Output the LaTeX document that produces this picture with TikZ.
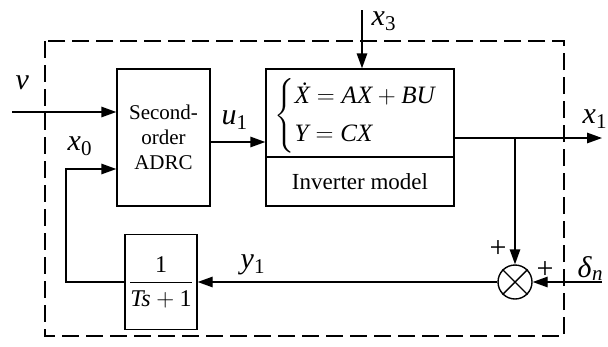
\documentclass[tikz,border=0pt]{standalone}
\usepackage{amsmath}
\usepackage{fontspec}
\setmainfont{Liberation Serif}
\usetikzlibrary{arrows.meta}
\newcommand\vsub[2]{\textit{#1}\textsubscript{#2}}
\begin{document}
\begin{tikzpicture}[x=1pt,y=-1pt,
  line width=1.4pt,
  arr/.style={-{Triangle[length=15pt,width=10.5pt]}},
  blk/.style={draw, inner sep=0pt},
  lab/.style={font=\fontsize{30}{34}\selectfont, inner sep=0pt, anchor=base west},
  sgn/.style={font=\fontsize{30}{34}\selectfont, inner sep=0pt},
  txt/.style={font=\fontsize{21}{25}\selectfont, align=center, inner sep=0pt}]
\useasboundingbox (0,0) rectangle (608,346);
\draw[dash pattern=on 17pt off 7pt] (45,41) rectangle (564,336);
% blocks
\node[blk, minimum width=93pt, minimum height=137pt] (adrc) at (163.5,137.5) {};
\node[txt] (adrct) at (adrc.center) {Second-\\order\\ADRC};
\node[blk, minimum width=188pt, minimum height=137pt] (inv) at (360,137.5) {};
\coordinate (div) at (360,157);
\draw (div -| inv.west) -- (div -| inv.east);
\node[txt, font=\fontsize{23}{27}\selectfont] (invt) at (360,181.5) {Inverter model};
\node[font=\fontsize{25}{30}\selectfont, inner sep=0pt, anchor=west] (eq) at (274,116)
  {$\left\{\begin{array}{@{}l@{}} \textit{\.X} = \textit{AX} + \textit{BU}\\[8pt] \textit{Y} = \textit{CX}\end{array}\right.$};
\node[blk, minimum width=72pt, minimum height=95pt] (tf) at (161,282) {};
\node[font=\fontsize{24}{28}\selectfont, inner sep=0pt] (tft) at (tf.center)
  {$\dfrac{\textrm{1}}{\textit{Ts}+\textrm{1}}$};
\node[draw, circle, minimum size=34pt, inner sep=0pt] (sum) at (515,282) {};
\draw (sum.north east) -- (sum.south west) (sum.north west) -- (sum.south east);
% coordinates
\coordinate (vin) at (12,112);
\coordinate (fb) at (66,169);
\coordinate (u1) at (238,142);
\coordinate (x3in) at (362,10);
\coordinate (out) at (602,138);
\coordinate (br) at (515,138);
\coordinate (din) at (602,282);
% connectors
\draw[arr] (vin) -- (vin -| adrc.west);
\draw[arr] (tf.west) -| (fb) -- (fb -| adrc.west);
\draw[arr] (u1 -| adrc.east) -- (u1 -| inv.west);
\draw[arr] (x3in) -- (x3in |- inv.north);
\draw[arr] (out -| inv.east) -- (out);
\draw[arr] (br) -- (sum.north);
\draw[arr] (din) -- (sum.east);
\draw[arr] (sum.west) -- (tf.east);
% labels
\node[lab] (lv) at (15,89) {\textit{v}};
\node[lab] (lx0) at (67,150) {\vsub{x}{0}};
\node[lab] (lu1) at (221,124) {\vsub{u}{1}};
\node[lab] (lx3) at (371,25) {\vsub{x}{3}};
\node[lab] (lx1) at (582,123) {\vsub{x}{1}};
\node[lab] (ly1) at (240,268) {\vsub{y}{1}};
\node[lab] (ldn) at (577,277) {\textit{δ}\textsubscript{\textit{n}}};
\node[sgn] (p1) at (498,249) {+};
\node[sgn] (p2) at (545,270) {+};
\end{tikzpicture}
\end{document}
